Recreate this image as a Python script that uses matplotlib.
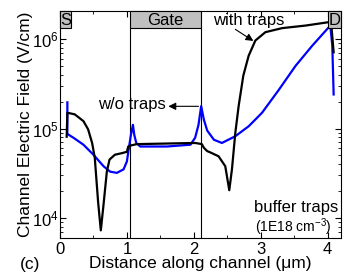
import matplotlib
matplotlib.use("Agg")
import matplotlib.pyplot as plt
from matplotlib.patches import Rectangle
from matplotlib.ticker import MultipleLocator, LogLocator, NullFormatter

plt.rcParams['font.family'] = ['Liberation Sans', 'DejaVu Sans']
plt.rcParams['mathtext.fontset'] = 'custom'
plt.rcParams['mathtext.rm'] = 'Liberation Sans'
plt.rcParams['mathtext.it'] = 'Liberation Sans:italic'

# with traps (black)
x_trap = [0.10, 0.11, 0.22, 0.35, 0.42, 0.48, 0.52, 0.57, 0.61, 0.65, 0.70, 0.74, 0.82, 0.92, 1.00, 1.02,
          1.07, 1.15, 1.60, 2.02, 2.12, 2.15, 2.20, 2.25, 2.37, 2.47, 2.53, 2.57, 2.62, 2.67, 2.74, 2.82,
          2.92, 3.07, 3.32, 3.67, 4.02, 4.06, 4.09]
y_trap = [8.1e4, 1.5e5, 1.44e5, 1.21e5, 9.8e4, 6.9e4, 4.7e4, 1.5e4, 7.3e3, 1.4e4, 3.3e4, 4.5e4, 5.1e4, 5.3e4, 5.5e4, 6.3e4,
          6.5e4, 6.7e4, 6.8e4, 6.9e4, 6.7e4, 6.1e4, 5.6e4, 5.4e4, 4.9e4, 3.8e4, 2.05e4, 3.5e4, 8.9e4, 1.78e5, 3.9e5, 6.5e5,
          9.6e5, 1.19e6, 1.32e6, 1.41e6, 1.54e6, 1.3e6, 7.1e5]

# w/o traps (blue)
x_free = [0.11, 0.11, 0.20, 0.35, 0.50, 0.65, 0.75, 0.85, 0.95, 1.00, 1.03, 1.06, 1.09, 1.11, 1.14, 1.20,
          1.60, 1.95, 2.02, 2.07, 2.11, 2.15, 2.20, 2.30, 2.42, 2.62, 2.82, 3.02, 3.27, 3.52, 3.77, 4.04,
          4.07, 4.09]
y_free = [1.96e5, 8.7e4, 7.9e4, 6.6e4, 5.1e4, 3.8e4, 3.3e4, 3.2e4, 3.5e4, 4.3e4, 6.1e4, 8.5e4, 1.1e5, 8.5e4, 6.9e4, 6.3e4,
          6.3e4, 6.6e4, 7.9e4, 1.1e5, 1.78e5, 1.26e5, 9.5e4, 7.5e4, 6.9e4, 8.2e4, 1.06e5, 1.5e5, 2.7e5, 5.0e5, 8.4e5, 1.41e6,
          8.4e5, 2.4e5]

regions = ["S", "Gate", "D"]
region_start = [0.0, 1.05, 4.01]
region_end = [0.17, 2.10, 4.2]

fig = plt.figure(figsize=(3.53, 2.78), dpi=100)
ax = fig.add_axes([60/353, 1 - 238/278, (341-60)/353, (238-11)/278])

ax.plot(x_trap, y_trap, color='black', lw=1.6, zorder=3)
ax.plot(x_free, y_free, color='#0000ff', lw=1.6, zorder=2)

ax.set_yscale('log')
ax.set_xlim(0, 4.2)
ax.set_ylim(6e3, 2.05e6)

ax.xaxis.set_major_locator(MultipleLocator(1))
ax.xaxis.set_minor_locator(MultipleLocator(0.5))
ax.yaxis.set_major_locator(LogLocator(base=10, numticks=10))
ax.yaxis.set_minor_locator(LogLocator(base=10, subs=range(2, 10), numticks=10))
ax.yaxis.set_minor_formatter(NullFormatter())
ax.tick_params(which='both', direction='in', top=True, right=True, labelsize=12)
ax.tick_params(axis='x', pad=3)
ax.tick_params(axis='y', pad=1)
ax.tick_params(which='major', length=4, width=0.8)
ax.tick_params(which='minor', length=2.5, width=0.6)

# region boxes
trans = ax.get_xaxis_transform()
box_h = 0.077
for name, s, e in zip(regions, region_start, region_end):
    ax.add_patch(Rectangle((s, 1 - box_h), e - s, box_h, transform=trans,
                           facecolor='#c0c0c0', edgecolor='black', lw=0.8, zorder=4, clip_on=False))
    ax.text((s + e) / 2, 1 - box_h / 2 - 0.005, name, transform=trans, ha='center', va='center',
            fontsize=12, zorder=5)

for gx in [1.05, 2.10]:
    ax.plot([gx, gx], [0, 1 - box_h], transform=trans, color='black', lw=0.8, zorder=1)

arrow_kw = dict(arrowstyle='-|>', color='black', lw=0.8, shrinkA=0, shrinkB=0, mutation_scale=11)
ax.text(2.82, 1.6e6, "with traps", ha='center', va='center', fontsize=12)
ax.annotate("", xy=(2.89, 9.5e5), xytext=(2.62, 1.28e6), arrowprops=arrow_kw)
ax.text(1.08, 1.85e5, "w/o traps", ha='center', va='center', fontsize=12)
ax.annotate("", xy=(1.62, 1.77e5), xytext=(2.07, 1.77e5), arrowprops=arrow_kw)

ax.text(4.16, 1.3e4, "buffer traps", ha='right', va='center', fontsize=12)
ax.text(4.06, 7.9e3, "(1E18 cm$^{-3}$)", ha='right', va='center', fontsize=10)

ax.set_xlabel("Distance along channel (\u03bcm)", fontsize=12.5, labelpad=-1)
ax.set_ylabel("Channel Electric Field (V/cm)", fontsize=12.5, labelpad=-1)
fig.text(20/353, 1 - 265/278, "(c)", fontsize=12.5, ha='left', va='center')

fig.savefig("out.png", dpi=100)
